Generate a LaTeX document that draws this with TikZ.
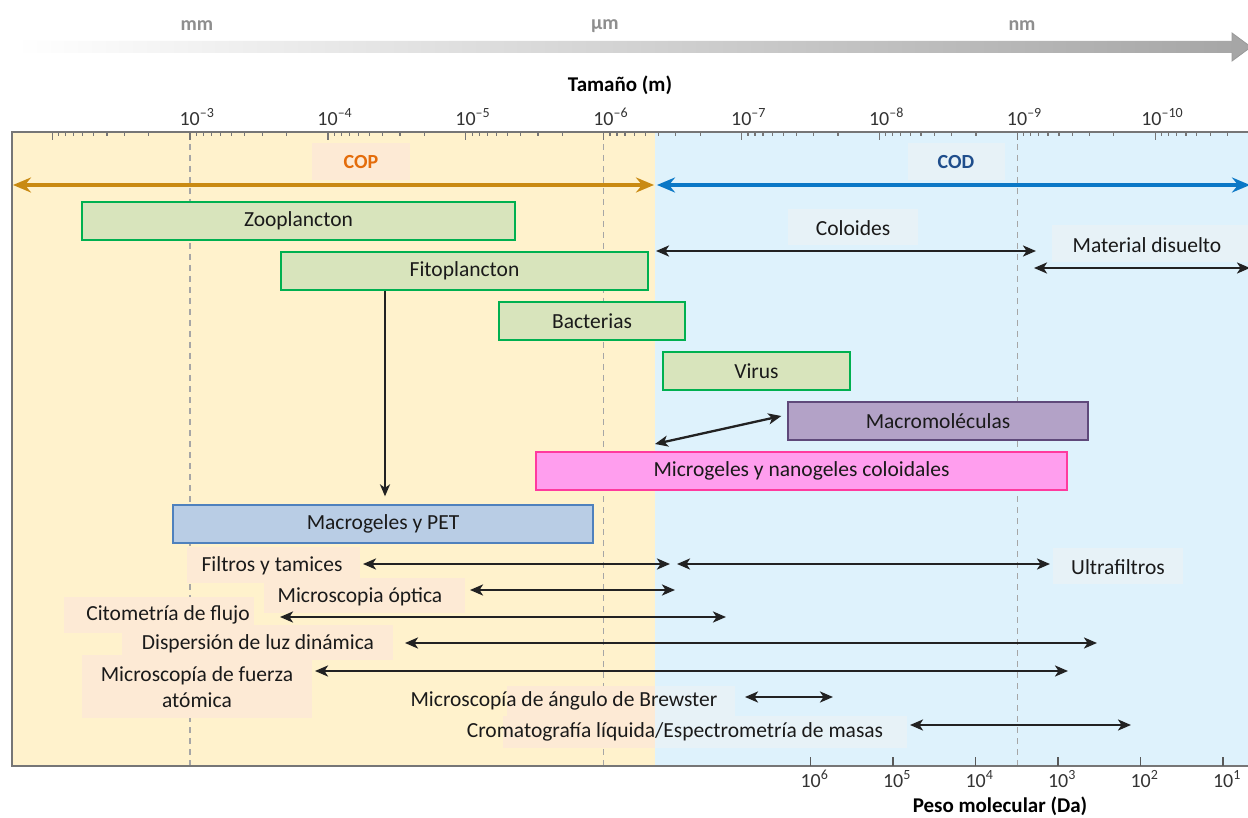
\documentclass[tikz,border=0pt]{standalone}
\usepackage{fontspec}
\setmainfont{Carlito}
\usetikzlibrary{arrows.meta,calc}
\definecolor{yel}{HTML}{FFF2CC}
\definecolor{blu}{HTML}{DEF2FC}
\definecolor{peach}{HTML}{FDEAD5}
\definecolor{paleb}{HTML}{E7F2F7}
\definecolor{gfill}{HTML}{D8E4BC}
\definecolor{gline}{HTML}{00B050}
\definecolor{pfill}{HTML}{B3A2C7}
\definecolor{pline}{HTML}{5F497A}
\definecolor{mfill}{HTML}{FF9EEE}
\definecolor{mline}{HTML}{FF3A9E}
\definecolor{bfill}{HTML}{B9CDE5}
\definecolor{bline}{HTML}{4F81BD}
\definecolor{copc}{HTML}{C98A12}
\definecolor{codc}{HTML}{0B78C6}
\definecolor{copt}{HTML}{E46C0A}
\definecolor{codt}{HTML}{1F4E8C}
\definecolor{ink}{HTML}{1A1A1A}
\definecolor{arr}{HTML}{222222}
\definecolor{framec}{HTML}{767676}
\definecolor{unitc}{HTML}{8E8E8E}
\newcommand{\fsz}[1]{\fontsize{#1}{#1}\selectfont}
\newcommand{\pw}[1]{10\textsuperscript{#1}}
\begin{document}
\begin{tikzpicture}[x=1pt,y=-1pt,
  catbox/.style={draw, line width=1.3pt, inner sep=0pt, minimum height=38pt, font=\fsz{21.5}, text=ink},
  greenbox/.style={catbox, fill=gfill, draw=gline},
  lbl/.style={inner sep=0pt, font=\fsz{21.5}, text=ink},
  unitlbl/.style={inner sep=0pt, font=\bfseries\fsz{20}, text=unitc},
  axlbl/.style={inner sep=0pt, font=\bfseries\fsz{21}, text=black},
  ticklbl/.style={inner sep=0pt, font=\fsz{20}, text=black!80},
  tick/.style={draw=framec, line width=1.2pt},
  dashline/.style={draw=black!35, line width=1.2pt, dash pattern=on 6pt off 5pt},
  rng/.style={draw=arr, line width=2.6pt, {Stealth[length=13pt,width=11pt,inset=3.5pt]}-{Stealth[length=13pt,width=11pt,inset=3.5pt]}},
  onearr/.style={draw=arr, line width=2.2pt, -{Stealth[length=12pt,width=10pt,inset=3.5pt]}},
  bigrng/.style={line width=3.8pt, {Stealth[length=18pt,width=15pt,inset=6pt]}-{Stealth[length=18pt,width=15pt,inset=6pt]}}
]
\useasboundingbox (0,0) rectangle (1248,818);
\clip (0,0) rectangle (1248,818);
\fill[white] (0,0) rectangle (1248,818);

% top unit arrow
\shade[left color=white, right color={rgb,255:red,165;green,165;blue,165}]
  (16,41) -- (1232,41) -- (1232,33) -- (1251,47) -- (1232,61) -- (1232,53) -- (16,53) -- cycle;
\draw[black!40, line width=0.8pt] (1232,41) -- (1232,33) -- (1251,47) -- (1232,61) -- (1232,53);
\node[unitlbl] (umm) at (197,26) {mm};
\node[unitlbl] (uum) at (605,26) {µm};
\node[unitlbl] (unm) at (1022,26) {nm};
\node[axlbl] (tam) at (620,85) {Tamaño (m)};

% backgrounds
\fill[yel] (12,132) rectangle (655,766);
\fill[blu] (655,132) rectangle (1250,766);

% dashed guides
\foreach \xx in {190,603.7,1017.5} \draw[dashline] (\xx,133) -- (\xx,766);

% label backgrounds
\def\lbllist{312/143/410/180, 908/143/1005/180, 788/209/918/245, 1052/225/1250/262,
  187/547/360/583, 264/578/465/613, 64/597/254/633, 122/625/393/660, 82/655/312/718,
  1053/548/1183/584, 507/686/735/716, 503/716/907/748}
\begin{scope}
  \clip (12,132) rectangle (655,766);
  \foreach \a/\b/\c/\d in \lbllist \fill[peach] (\a,\b) rectangle (\c,\d);
\end{scope}
\begin{scope}
  \clip (655,132) rectangle (1250,766);
  \foreach \a/\b/\c/\d in \lbllist \fill[paleb] (\a,\b) rectangle (\c,\d);
\end{scope}

% frame and ticks
\draw[framec, line width=1.6pt] (1250,132) -- (12,132) -- (12,766) -- (1250,766);
\foreach \k in {2,...,10} {
  \pgfmathsetmacro\xk{190+(\k-3)*137.9}
  \draw[tick] (\xk,132) -- ++(0,8);
  \foreach \v in {2,...,9} {
    \pgfmathsetmacro\xv{\xk+137.9-log10(\v)*137.9}
    \draw[tick] (\xv,132) -- ++(0,4.5);
  }
}
\foreach \k in {3,...,10} {
  \pgfmathsetmacro\xk{190+(\k-3)*137.9+7}
  \node[ticklbl] (top\k) at (\xk,117) {\pw{–\k}};
}
\foreach \e [count=\j from 0] in {6,5,4,3,2,1} {
  \pgfmathsetmacro\xb{810.5+\j*82.5}
  \draw[tick, draw=black!65] (\xb,766) -- ++(0,-9);
  \node[ticklbl] (bot\e) at (\xb+4,779) {\pw{\e}};
}
\node[axlbl] (peso) at (1000,806) {Peso molecular (Da)};

% category boxes
\node[greenbox, minimum width=433pt] (zoo) at (298.5,221) {Zooplancton};
\node[greenbox, minimum width=367pt] (fito) at (464.5,271) {Fitoplancton};
\node[greenbox, minimum width=186pt] (bact) at (592,321) {Bacterias};
\node[greenbox, minimum width=187pt] (vir) at (756.5,371) {Virus};
\node[catbox, fill=pfill, draw=pline, minimum width=300pt] (mac) at (938,421) {Macromoléculas};
\node[catbox, fill=mfill, draw=mline, minimum width=531pt] (mic) at (801.5,471) {Microgeles y nanogeles coloidales};
\node[catbox, fill=bfill, draw=bline, minimum width=420pt] (mgel) at (383,524) {Macrogeles y PET};

% COP / COD
\node[inner sep=0pt, font=\bfseries\fsz{20}, text=copt] (cop) at (361,162) {COP};
\node[inner sep=0pt, font=\bfseries\fsz{20}, text=codt] (cod) at (956,162) {COD};
\coordinate (copL) at (13,185); \coordinate (copR) at (654,185);
\coordinate (codL) at (657,185); \coordinate (codR) at (1250,185);
\draw[bigrng, draw=copc, color=copc] (copL) -- (copR);
\draw[bigrng, draw=codc, color=codc] (codL) -- (codR);

% coloides / material disuelto
\node[lbl] (col) at (853,228) {Coloides};
\node[lbl] (mat) at (1147,245) {Material disuelto};
\coordinate (colL) at (656,251); \coordinate (colR) at (1036,251);
\coordinate (matL) at (1034,268); \coordinate (matR) at (1250,268);
\draw[rng] (colL) -- (colR);
\draw[rng] (matL) -- (matR);

% connectors between boxes
\draw[onearr] (fito.south -| 385,0) -- ([yshift=8pt]mgel.north -| 385,0);
\coordinate (macL) at (655,444);
\draw[rng, line width=2.3pt] (macL) -- ([shift={(-6,-5)}]mac.west);

% techniques
\node[lbl] (fil) at (272,566) {Filtros y tamices};
\node[lbl] (ult) at (1118,567) {Ultrafiltros};
\node[lbl] (opt) at (360,597) {Microscopia óptica};
\node[lbl] (cit) at (168,615) {Citometría de flujo};
\node[lbl] (dis) at (258,644) {Dispersión de luz dinámica};
\node[lbl, align=center, font=\fontsize{21.5}{26}\selectfont] (fue) at (197,687) {Microscopía de fuerza\\atómica};
\node[lbl] (bre) at (564,701) {Microscopía de ángulo de Brewster};
\node[lbl] (cro) at (675,732) {Cromatografía líquida/Espectrometría de masas};

\coordinate (filL) at (363,564); \coordinate (filR) at (670,564);
\coordinate (ultL) at (677,564); \coordinate (ultR) at (1050,564);
\coordinate (optL) at (470,590); \coordinate (optR) at (675,590);
\coordinate (citL) at (280,617); \coordinate (citR) at (726,617);
\coordinate (disL) at (405,643); \coordinate (disR) at (1097,643);
\coordinate (fueL) at (315,671); \coordinate (fueR) at (1068,671);
\coordinate (breL) at (745,697); \coordinate (breR) at (833,697);
\coordinate (croL) at (910,725); \coordinate (croR) at (1131,725);
\draw[rng] (filL) -- (filR);
\draw[rng] (ultL) -- (ultR);
\draw[rng] (optL) -- (optR);
\draw[rng] (citL) -- (citR);
\draw[rng] (disL) -- (disR);
\draw[rng] (fueL) -- (fueR);
\draw[rng] (breL) -- (breR);
\draw[rng] (croL) -- (croR);
\end{tikzpicture}
\end{document}
